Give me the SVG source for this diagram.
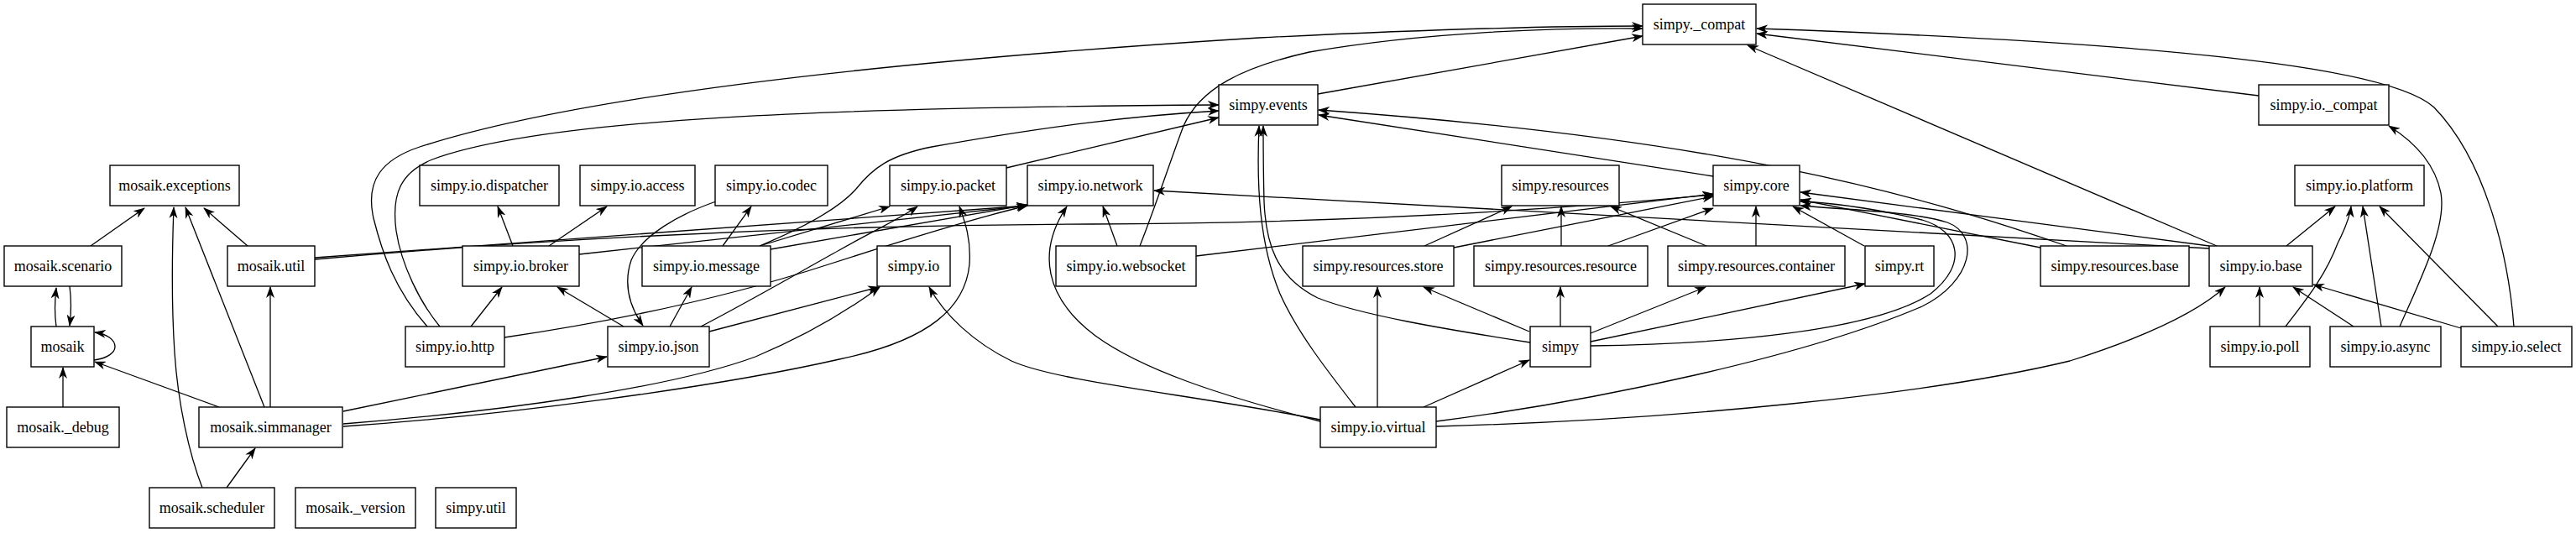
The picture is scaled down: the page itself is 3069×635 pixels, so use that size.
<svg xmlns="http://www.w3.org/2000/svg" width="3069" height="635" viewBox="0 0 3069 635">
<style>
.n rect{fill:#fff;stroke:#000;stroke-width:1.4}
.n text{font-family:"Liberation Serif","Times New Roman",serif;font-size:18px;text-anchor:middle;fill:#000}
#edges path{fill:none;stroke:#000;stroke-width:1.3;marker-end:url(#ah)}
</style>
<defs>
<marker id="ah" viewBox="0 0 14 10" markerWidth="14" markerHeight="10" refX="13" refY="5" orient="auto" markerUnits="userSpaceOnUse">
<path d="M0,0 L14,5 L0,10 L4,5 z" fill="#000"/>
</marker>
</defs>
<rect width="3069" height="635" fill="#fff"/>
<g id="edges">
<path d="M108,293 L172,248"/>
<path d="M295,293 L243,248"/>
<path d="M315,485 L221,247"/>
<path d="M241,581 C225,540 212,480 208,420 C204,360 205,300 207,247"/>
<path d="M67,389 C65,375 65,360 67,343"/>
<path d="M83,341 C85,357 85,372 83,388"/>
<path d="M112,429 C128,427 137,420 137,413 C137,405 128,398 113,396"/>
<path d="M75,485 L75,438"/>
<path d="M261,485 L113,431"/>
<path d="M322,485 L322,342"/>
<path d="M270,581 L304,534"/>
<path d="M375,309 C700,280 1000,268 1300,267 C1600,266 1850,250 2041,232"/>
<path d="M375,307 L1224,245"/>
<path d="M690,303 L1224,245"/>
<path d="M611,293 L593,246"/>
<path d="M654,293 L723,246"/>
<path d="M561,389 L598,342"/>
<path d="M601,402 C750,380 880,350 987,315 C1080,285 1160,260 1224,245"/>
<path d="M509,389 C470,345 455,300 445,260 C435,215 455,190 500,175 C700,110 1100,70 1500,45 C1700,35 1850,31 1957,31"/>
<path d="M524,389 C500,360 478,315 472,275 C466,230 478,205 515,190 C650,140 1000,128 1452,125"/>
<path d="M743,389 L664,342"/>
<path d="M798,389 L824,342"/>
<path d="M845,395 L1047,342"/>
<path d="M835,389 C900,355 960,320 1000,298 C1040,275 1070,262 1093,246"/>
<path d="M853,240 C810,255 765,280 752,310 C742,340 750,365 766,388"/>
<path d="M861,293 L895,246"/>
<path d="M905,293 C960,270 1000,248 1020,225 C1040,200 1060,185 1110,175 C1250,150 1350,138 1452,132"/>
<path d="M905,293 L1060,246"/>
<path d="M918,297 L1224,244"/>
<path d="M1199,200 L1452,140"/>
<path d="M409,490 L723,425"/>
<path d="M409,505 C600,490 800,462 900,425 C960,400 1010,370 1048,342"/>
<path d="M409,508 C600,495 850,462 1000,428 C1110,405 1150,365 1155,315 C1157,285 1150,265 1143,246"/>
<path d="M1331,293 L1314,246"/>
<path d="M1358,293 C1375,250 1395,190 1410,150 C1430,105 1480,80 1560,62 C1700,38 1850,33 1957,34"/>
<path d="M1425,305 L2041,231"/>
<path d="M1570,112 L1957,43"/>
<path d="M2041,210 L1571,137"/>
<path d="M2462,293 C2280,230 2050,165 1571,131"/>
<path d="M1697,293 L1801,246"/>
<path d="M1732,295 L2041,234"/>
<path d="M1860,293 L1860,246"/>
<path d="M1916,293 L2041,248"/>
<path d="M2033,293 L1919,246"/>
<path d="M2092,293 L2092,246"/>
<path d="M2221,293 L2136,246"/>
<path d="M2431,295 L2145,238"/>
<path d="M2632,293 L2145,229"/>
<path d="M2632,296 L1375,227"/>
<path d="M2641,293 L2082,54"/>
<path d="M2724,293 L2782,246"/>
<path d="M2691,114 L2093,40"/>
<path d="M2995,389 C2988,300 2960,190 2900,128 C2860,92 2700,55 2093,34"/>
<path d="M2976,389 L2835,246"/>
<path d="M2932,391 L2756,339"/>
<path d="M2804,389 L2732,342"/>
<path d="M2837,389 L2815,246"/>
<path d="M2859,389 C2885,330 2915,270 2908,230 C2900,190 2870,165 2846,150"/>
<path d="M2692,389 L2692,342"/>
<path d="M2723,389 C2745,360 2770,330 2785,290 C2795,270 2800,255 2801,246"/>
<path d="M1822,395 L1696,342"/>
<path d="M1859,389 L1859,342"/>
<path d="M1895,397 L2032,342"/>
<path d="M1895,407 C2000,385 2120,360 2222,338"/>
<path d="M1895,412 C2050,410 2230,395 2300,350 C2345,315 2335,275 2290,262 C2240,250 2190,242 2145,240"/>
<path d="M1823,408 C1720,392 1620,375 1570,355 C1520,330 1508,290 1506,240 C1505,200 1505,170 1505,150"/>
<path d="M1615,485 C1580,440 1545,395 1525,350 C1500,290 1497,220 1500,150"/>
<path d="M1641,485 L1641,342"/>
<path d="M1696,485 L1822,429"/>
<path d="M1573,500 C1420,470 1260,455 1205,430 C1160,408 1125,375 1107,342"/>
<path d="M1573,502 C1450,470 1360,440 1305,400 C1245,355 1235,300 1271,246"/>
<path d="M1711,502 C1900,478 2150,425 2290,365 C2350,335 2360,280 2320,265 C2280,252 2200,250 2145,245"/>
<path d="M1711,508 C2000,500 2300,470 2466,430 C2560,400 2620,370 2651,342"/>
</g>
<g id="n_simpy__compat" class="n"><rect x="1957" y="5" width="135" height="48"/><text x="2024.5" y="35">simpy._compat</text></g>
<g id="n_simpy_events" class="n"><rect x="1452" y="101" width="118" height="48"/><text x="1511" y="131">simpy.events</text></g>
<g id="n_simpy_io__compat" class="n"><rect x="2691" y="101" width="155" height="48"/><text x="2768.5" y="131">simpy.io._compat</text></g>
<g id="n_mosaik_exceptions" class="n"><rect x="131" y="197" width="154" height="48"/><text x="208" y="227">mosaik.exceptions</text></g>
<g id="n_simpy_io_dispatcher" class="n"><rect x="500" y="197" width="166" height="48"/><text x="583" y="227">simpy.io.dispatcher</text></g>
<g id="n_simpy_io_access" class="n"><rect x="691" y="197" width="137" height="48"/><text x="759.5" y="227">simpy.io.access</text></g>
<g id="n_simpy_io_codec" class="n"><rect x="852" y="197" width="134" height="48"/><text x="919" y="227">simpy.io.codec</text></g>
<g id="n_simpy_io_packet" class="n"><rect x="1060" y="197" width="139" height="48"/><text x="1129.5" y="227">simpy.io.packet</text></g>
<g id="n_simpy_io_network" class="n"><rect x="1224" y="197" width="150" height="48"/><text x="1299" y="227">simpy.io.network</text></g>
<g id="n_simpy_resources" class="n"><rect x="1789" y="197" width="140" height="48"/><text x="1859" y="227">simpy.resources</text></g>
<g id="n_simpy_core" class="n"><rect x="2041" y="197" width="103" height="48"/><text x="2092.5" y="227">simpy.core</text></g>
<g id="n_simpy_io_platform" class="n"><rect x="2734" y="197" width="154" height="48"/><text x="2811" y="227">simpy.io.platform</text></g>
<g id="n_mosaik_scenario" class="n"><rect x="5" y="293" width="140" height="48"/><text x="75" y="323">mosaik.scenario</text></g>
<g id="n_mosaik_util" class="n"><rect x="271" y="293" width="104" height="48"/><text x="323" y="323">mosaik.util</text></g>
<g id="n_simpy_io_broker" class="n"><rect x="551" y="293" width="139" height="48"/><text x="620.5" y="323">simpy.io.broker</text></g>
<g id="n_simpy_io_message" class="n"><rect x="765" y="293" width="153" height="48"/><text x="841.5" y="323">simpy.io.message</text></g>
<g id="n_simpy_io" class="n"><rect x="1045" y="293" width="87" height="48"/><text x="1088.5" y="323">simpy.io</text></g>
<g id="n_simpy_io_websocket" class="n"><rect x="1258" y="293" width="167" height="48"/><text x="1341.5" y="323">simpy.io.websocket</text></g>
<g id="n_simpy_resources_store" class="n"><rect x="1552" y="293" width="180" height="48"/><text x="1642" y="323">simpy.resources.store</text></g>
<g id="n_simpy_resources_resource" class="n"><rect x="1756" y="293" width="207" height="48"/><text x="1859.5" y="323">simpy.resources.resource</text></g>
<g id="n_simpy_resources_container" class="n"><rect x="1987" y="293" width="211" height="48"/><text x="2092.5" y="323">simpy.resources.container</text></g>
<g id="n_simpy_rt" class="n"><rect x="2222" y="293" width="82" height="48"/><text x="2263" y="323">simpy.rt</text></g>
<g id="n_simpy_resources_base" class="n"><rect x="2431" y="293" width="177" height="48"/><text x="2519.5" y="323">simpy.resources.base</text></g>
<g id="n_simpy_io_base" class="n"><rect x="2632" y="293" width="123" height="48"/><text x="2693.5" y="323">simpy.io.base</text></g>
<g id="n_mosaik" class="n"><rect x="37" y="389" width="75" height="48"/><text x="74.5" y="419">mosaik</text></g>
<g id="n_simpy_io_http" class="n"><rect x="483" y="389" width="118" height="48"/><text x="542" y="419">simpy.io.http</text></g>
<g id="n_simpy_io_json" class="n"><rect x="724" y="389" width="121" height="48"/><text x="784.5" y="419">simpy.io.json</text></g>
<g id="n_simpy" class="n"><rect x="1823" y="389" width="72" height="48"/><text x="1859" y="419">simpy</text></g>
<g id="n_simpy_io_poll" class="n"><rect x="2633" y="389" width="119" height="48"/><text x="2692.5" y="419">simpy.io.poll</text></g>
<g id="n_simpy_io_async" class="n"><rect x="2776" y="389" width="132" height="48"/><text x="2842" y="419">simpy.io.async</text></g>
<g id="n_simpy_io_select" class="n"><rect x="2932" y="389" width="132" height="48"/><text x="2998" y="419">simpy.io.select</text></g>
<g id="n_mosaik__debug" class="n"><rect x="8" y="485" width="134" height="48"/><text x="75" y="515">mosaik._debug</text></g>
<g id="n_mosaik_simmanager" class="n"><rect x="237" y="485" width="171" height="48"/><text x="322.5" y="515">mosaik.simmanager</text></g>
<g id="n_simpy_io_virtual" class="n"><rect x="1573" y="485" width="138" height="48"/><text x="1642" y="515">simpy.io.virtual</text></g>
<g id="n_mosaik_scheduler" class="n"><rect x="178" y="581" width="149" height="48"/><text x="252.5" y="611">mosaik.scheduler</text></g>
<g id="n_mosaik__version" class="n"><rect x="352" y="581" width="143" height="48"/><text x="423.5" y="611">mosaik._version</text></g>
<g id="n_simpy_util" class="n"><rect x="519" y="581" width="96" height="48"/><text x="567" y="611">simpy.util</text></g>
</svg>
